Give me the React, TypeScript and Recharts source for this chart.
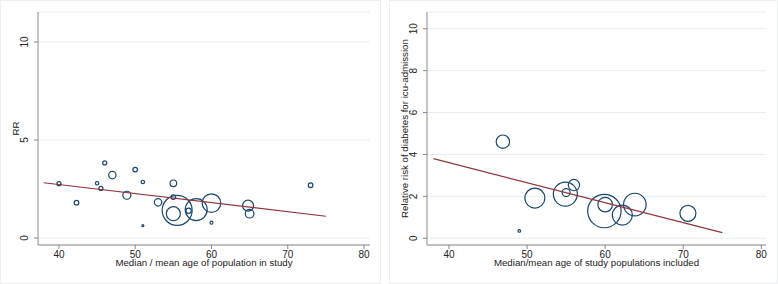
import React from 'react';
import { ScatterChart, Scatter, XAxis, YAxis, CartesianGrid } from 'recharts';

// Left panel: median/mean age vs RR, bubble weight (area)
const leftAge = [40, 42.3, 45.0, 45.5, 46.0, 47.0, 48.9, 50.0, 51.0, 51.0, 53.0, 55.0, 55.0, 55.5, 55.0, 57.0, 58.0, 60.0, 60.0, 64.8, 65.0, 73.0];
const leftRR = [2.77, 1.80, 2.79, 2.53, 3.83, 3.21, 2.18, 3.49, 2.86, 0.63, 1.82, 2.79, 2.09, 1.41, 1.24, 1.39, 1.45, 1.78, 0.78, 1.65, 1.24, 2.69];
const leftWeight = [4, 5.3, 2.9, 4, 4, 13.7, 16, 5.3, 2.9, 1, 13.7, 10.9, 5.3, 225, 49, 7.3, 121, 86.5, 2.25, 30, 18.5, 5.3];
const leftFitX = [38, 75];
const leftFitY = [2.82, 1.11];

// Right panel
const rightAge = [46.9, 49.0, 51.0, 55.0, 54.9, 56.0, 59.9, 60.0, 62.2, 63.8, 70.6];
const rightRR = [4.61, 0.35, 1.92, 2.18, 2.11, 2.54, 1.30, 1.61, 1.11, 1.61, 1.19];
const rightWeight = [45, 1.7, 100, 16, 144, 32, 279, 53, 100, 128, 64];
const rightFitX = [38, 75];
const rightFitY = [3.80, 0.27];

const xTicks = [40, 50, 60, 70, 80];
const leftYTicks = [0, 5, 10];
const rightYTicks = [0, 2, 4, 6, 8, 10];

const NAVY = '#1a476f';
const MAROON = '#90353b';
const AXIS = '#8a8a8a';
const GRID = '#e7eef1';
const FONT = '"Liberation Sans", Arial, sans-serif';

const build = (xs: number[], ys: number[], ws?: number[]) =>
  xs.map((x, i) => ({ x, y: ys[i], w: ws ? ws[i] : 0 }));

const Bubble = (props: any) => {
  const { cx, cy, payload } = props;
  if (cx == null || cy == null) return <g />;
  return <circle cx={cx} cy={cy} r={Math.sqrt(payload.w)} fill="none" stroke={NAVY} strokeWidth={1.2} />;
};

const NoDot = () => <g />;

const XTick = (props: any) => {
  const { x, y, payload } = props;
  return (
    <text x={x} y={y} dy="0.71em" textAnchor="middle" fill="#222" fontSize={10} fontFamily={FONT}>
      {payload.value}
    </text>
  );
};

const YTick = (props: any) => {
  const { x, y, payload } = props;
  return (
    <text
      x={x}
      y={y}
      transform={`rotate(-90, ${x}, ${y})`}
      textAnchor="middle"
      dominantBaseline="central"
      fill="#222"
      fontSize={10}
      fontFamily={FONT}
    >
      {payload.value}
    </text>
  );
};

const makeYLabel = (text: string, px: number) => (props: any) => {
  const vb = props.viewBox || {};
  const cy = vb.y + vb.height / 2;
  return (
    <text
      x={px}
      y={cy}
      transform={`rotate(-90, ${px}, ${cy})`}
      textAnchor="middle"
      dominantBaseline="central"
      fill="#222"
      fontSize={9.7}
      fontFamily={FONT}
    >
      {text}
    </text>
  );
};

const makeXLabel = (text: string) => (props: any) => {
  const vb = props.viewBox || {};
  const cx = vb.x + vb.width / 2;
  return (
    <text x={cx} y={265.5} textAnchor="middle" fill="#222" fontSize={9.7} fontFamily={FONT}>
      {text}
    </text>
  );
};

type PanelProps = {
  width: number;
  rightMargin: number;
  xDomain: [number, number];
  yDomain: [number, number];
  yTicks: number[];
  points: { x: number; y: number; w: number }[];
  fit: { x: number; y: number; w: number }[];
  xLabel: string;
  yLabel: string;
};

const Panel = ({ width, rightMargin, xDomain, yDomain, yTicks, points, fit, xLabel, yLabel }: PanelProps) => (
  <ScatterChart width={width} height={284} margin={{ top: 12, right: rightMargin, bottom: 0, left: 0 }}>
    <CartesianGrid horizontal vertical={false} stroke={GRID} strokeWidth={1} />
    <XAxis
      type="number"
      dataKey="x"
      domain={xDomain}
      ticks={xTicks}
      allowDataOverflow
      height={39}
      stroke={AXIS}
      tickSize={4}
      tickMargin={2}
      tick={<XTick />}
      label={makeXLabel(xLabel)}
    />
    <YAxis
      type="number"
      dataKey="y"
      domain={yDomain}
      ticks={yTicks}
      allowDataOverflow
      width={38}
      stroke={AXIS}
      tickSize={4}
      tickMargin={9}
      tick={<YTick />}
      label={makeYLabel(yLabel, 15)}
    />
    <Scatter data={points} shape={<Bubble />} isAnimationActive={false} />
    <Scatter
      data={fit}
      line={{ stroke: MAROON, strokeWidth: 1.2 }}
      shape={<NoDot />}
      isAnimationActive={false}
    />
  </ScatterChart>
);

export default function App() {
  return (
    <div style={{ position: 'absolute', left: 0, top: 0, width: 778, height: 284, background: '#fff' }}>
      <div style={{ position: 'absolute', left: 0, top: 0, width: 381, height: 284, boxShadow: 'inset 0 0 0 1px #eaeff1' }}>
        <Panel
          width={381}
          rightMargin={11}
          xDomain={[37.25, 80.79]}
          yDomain={[-0.357, 11.53]}
          yTicks={leftYTicks}
          points={build(leftAge, leftRR, leftWeight)}
          fit={build(leftFitX, leftFitY)}
          xLabel="Median / mean age of population in study"
          yLabel="RR"
        />
      </div>
      <div style={{ position: 'absolute', left: 389, top: 0, width: 389, height: 284, boxShadow: 'inset 0 0 0 1px #eaeff1' }}>
        <Panel
          width={389}
          rightMargin={12}
          xDomain={[37.18, 80.6]}
          yDomain={[-0.32, 10.8]}
          yTicks={rightYTicks}
          points={build(rightAge, rightRR, rightWeight)}
          fit={build(rightFitX, rightFitY)}
          xLabel="Median/mean age of study populations included"
          yLabel="Relative risk of diabetes for icu-admission"
        />
      </div>
    </div>
  );
}
